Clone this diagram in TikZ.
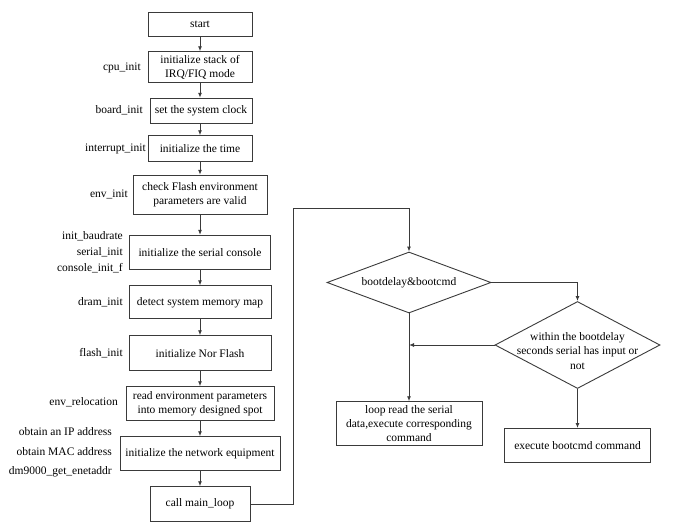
\documentclass[tikz,border=0pt]{standalone}
\usepackage{fontspec}
\setmainfont{Liberation Serif}
\usetikzlibrary{arrows.meta,shapes.geometric}
\definecolor{ln}{HTML}{3A3A3A}
\tikzset{
  box/.style={draw=ln, line width=0.9pt, inner sep=0pt, align=center, font=\fontsize{11.5}{14.5}\selectfont},
  lbl/.style={anchor=east, inner sep=0pt, align=right, font=\fontsize{11.5}{14.5}\selectfont},
  txt/.style={inner sep=0pt, align=center, font=\fontsize{11.5}{14.2}\selectfont},
  dia/.style={draw=ln, line width=0.9pt, diamond, inner sep=0pt},
  arr/.style={draw=ln, line width=0.9pt, -{Latex[length=5pt,width=4pt]}},
  ln/.style={draw=ln, line width=0.9pt}
}
\begin{document}
\begin{tikzpicture}[x=1pt,y=-1pt]
\useasboundingbox (0,0) rectangle (681,525);
% left column
\node[box, minimum width=104, minimum height=24.5] (start) at (200,24.5) {start};
\node[box, minimum width=104, minimum height=31] (cpu) at (200,67.2) {initialize stack of\\IRQ/FIQ mode};
\node[box, minimum width=102, minimum height=25] (board) at (201,110.7) {set the system clock};
\node[box, minimum width=104, minimum height=26] (intr) at (200,148.7) {initialize the time};
\node[box, minimum width=134, minimum height=39] (env) at (200,194.7) {check Flash environment\\parameters are valid};
\node[box, minimum width=141, minimum height=34] (serial) at (200,252.3) {initialize the serial console};
\node[box, minimum width=142, minimum height=33] (dram) at (200,302.3) {detect system memory map};
\node[box, minimum width=142, minimum height=35] (flash) at (200,353.2) {initialize Nor Flash};
\node[box, minimum width=148, minimum height=34] (reloc) at (200,403.7) {read environment parameters\\into memory designed spot};
\node[box, minimum width=160, minimum height=34] (net) at (200,453.7) {initialize the network equipment};
\node[box, minimum width=100, minimum height=35] (main) at (200,504.2) {call main\_loop};
% labels
\node[lbl] (lcpu) at (141,68) {cpu\_init};
\node[lbl] (lboard) at (143,110.5) {board\_init};
\node[lbl] (lintr) at (146,148.5) {interrupt\_init};
\node[lbl] (lenv) at (128,194) {env\_init};
\node[lbl, font=\fontsize{11.5}{16.2}\selectfont] (lserial) at (123,252.5) {init\_baudrate\\serial\_init\\console\_init\_f};
\node[lbl] (ldram) at (123,302) {dram\_init};
\node[lbl] (lflash) at (123,352.7) {flash\_init};
\node[lbl] (lreloc) at (118,402.7) {env\_relocation};
\node[lbl, font=\fontsize{11.5}{19.5}\selectfont] (lnet) at (112,452.7) {obtain an IP address\\obtain MAC address\\dm9000\_get\_enetaddr};
% left arrows
\draw[arr] (start) -- (start |- cpu.north);
\draw[arr] (cpu) -- (cpu |- board.north);
\draw[arr] (board.south -| start) -- (start |- intr.north);
\draw[arr] (intr) -- (intr |- env.north);
\draw[arr] (env) -- (env |- serial.north);
\draw[arr] (serial) -- (serial |- dram.north);
\draw[arr] (dram) -- (dram |- flash.north);
\draw[arr] (flash) -- (flash |- reloc.north);
\draw[arr] (reloc) -- (reloc |- net.north);
\draw[arr] (net) -- (net |- main.north);
% right part
\node[dia, minimum width=164, minimum height=61] (d1) at (409,282.5) {};
\node[txt] (d1t) at (d1.center) {bootdelay\&bootcmd};
\node[dia, minimum width=165, minimum height=87] (d2) at (577.5,345) {};
\node[txt] (d2t) at (577.5,351) {within the bootdelay\\seconds serial has input or\\not};
\node[box, minimum width=146, minimum height=44, font=\fontsize{11.5}{14}\selectfont] (loop) at (409,423.7) {loop read the serial\\data,execute corresponding\\command};
\node[box, minimum width=146, minimum height=34] (exec) at (577.5,445.5) {execute bootcmd command};
\coordinate (c1) at (293.3,504.2);
\coordinate (c2) at (293.3,208.3);
\draw[arr] (main.east) -- (c1) -- (c2) -- (c2 -| d1) -- (d1.north);
\draw[arr] (d1.east) -- (d1.east -| d2) -- (d2.north);
\draw[arr] (d1.south) -- (loop.north);
\draw[arr] (d2.west) -- (d2.west -| d1);
\draw[arr] (d2.south) -- (exec.north);
\end{tikzpicture}
\end{document}
